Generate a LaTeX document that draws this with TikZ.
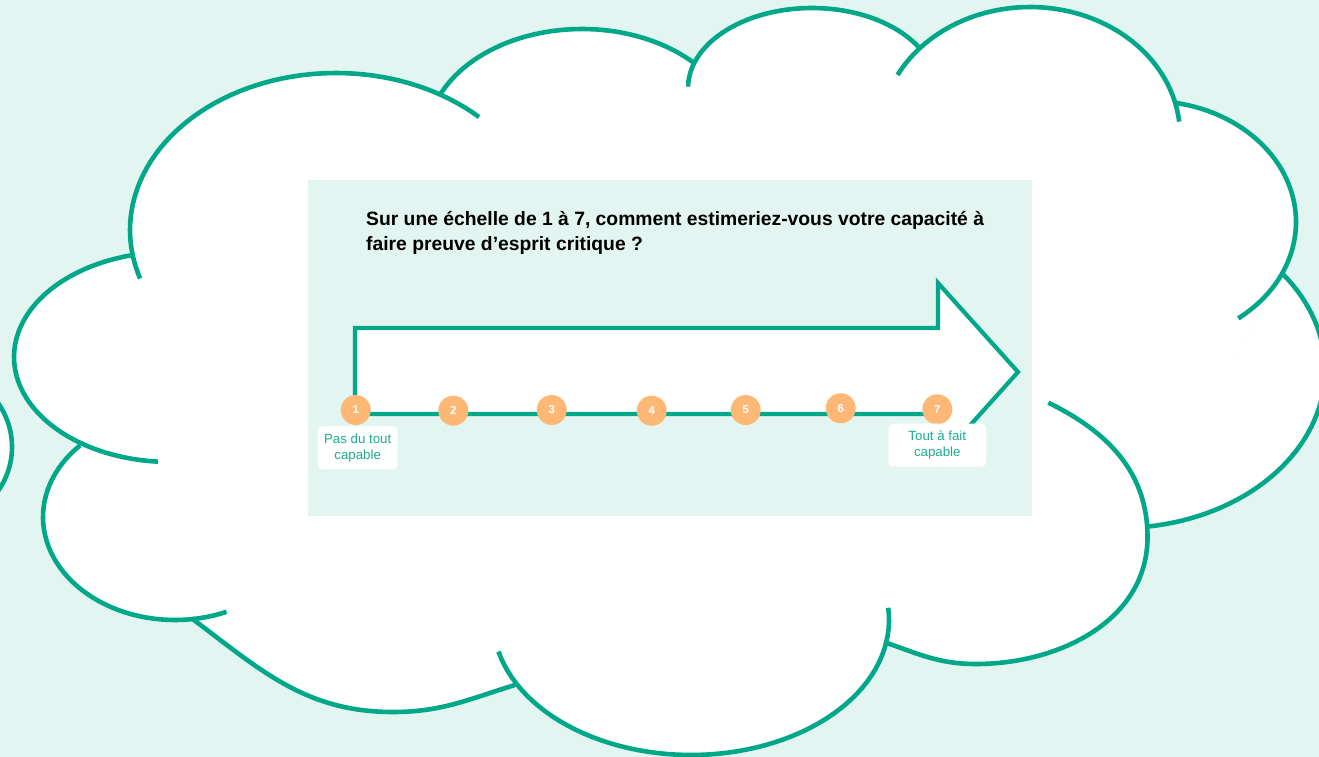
\documentclass[tikz,border=0pt]{standalone}
\usepackage{fontspec}
\setmainfont{Liberation Sans}
\usetikzlibrary{positioning}
\definecolor{mint}{RGB}{226,245,240}
\definecolor{cloudgreen}{RGB}{0,168,137}
\definecolor{labelgreen}{RGB}{28,174,143}
\definecolor{dotorange}{RGB}{253,184,118}

% the lobes of the cloud, each one path, all drawn with the style in #1
\newcommand\cloudlobes[1]{%
\path[#1] plot[domain=94.4:256.4,samples=50] ({170+156*cos(\x)},{357+105*sin(\x)});
\path[#1] plot[domain=162:314,samples=60] ({336+206*cos(\x)},{230+157*sin(\x)});
\path[#1] plot[domain=203.6:316.5,samples=50] ({582+155*cos(\x)},{139+110*sin(\x)});
\path[#1] plot[domain=181:329,samples=50] ({812+124*cos(\x)},{88+80*sin(\x)});
\path[#1] plot[domain=208:354,samples=50] ({1030+150*cos(\x)},{135+128*sin(\x)});
\path[#1] plot[domain=279.8:412.8,samples=50] ({1150+146*cos(\x)},{222+121*sin(\x)});
\path[#1] plot[domain=-38.1:82.5,samples=50] ({1120+205*cos(\x)},{370+158*sin(\x)});
\path[#1] (1048.3,402.7) to[out=-26,in=90] (1147.5,537) to[out=-90,in=0] (976,664) to[out=180,in=-19] (884,642);
\path[#1] plot[domain=-5.2:166.5,samples=60] ({691+198*cos(\x)},{620+135*sin(\x)});
\path[#1] (515,685) to[out=197,in=0] (393,712) to[out=180,in=-37] (191.7,618.3);
\path[#1] plot[domain=67:224,samples=50] ({175+132*cos(\x)},{517+103*sin(\x)});
}

\begin{document}
\begin{tikzpicture}[x=1pt,y=-1pt,
  cloudfill/.style={fill=white,draw=white,line width=1pt},
  cloudline/.style={draw=cloudgreen,line width=4.6pt},
  arrowline/.style={cloudgreen,line width=4.2pt,line join=miter},
  scaleline/.style={cloudgreen,line width=4.5pt},
  question/.style={inner sep=0pt,font=\bfseries\fontsize{19.3}{25}\selectfont},
  dot/.style={circle,fill=dotorange,minimum size=30pt,inner sep=0pt,text=white,font=\bfseries\fontsize{11.5}{12}\selectfont},
  endlabel/.style={fill=white,rounded corners=5pt,align=center,text=labelgreen,inner sep=0pt,minimum height=43pt,font=\fontsize{13.3}{16.5}\selectfont}]
\useasboundingbox (0,0) rectangle (1319,757);
\clip (0,0) rectangle (1319,757);
\fill[mint] (0,0) rectangle (1319,757);

% cloud
\cloudlobes{cloudfill}
\path[cloudfill] (133,255) -- (440,95) -- (695,63) -- (918,47) -- (1175,102) -- (1280,273) -- (1147,527) -- (884,642) -- (515,685) -- (192,618) -- (82,447) -- cycle;
\cloudlobes{cloudline}
\draw[cloudline,fill=white] (-64,447) circle[radius=76pt];

% question panel
\fill[mint] (308,180) rectangle (1032,516);
\node[question,anchor=base west] (q1) at (366,225) {Sur une échelle de 1 à 7, comment estimeriez-vous votre capacité à};
\node[question,anchor=base west] (q2) at (366,250) {faire preuve d’esprit critique ?};

% arrow and scale
\draw[arrowline,fill=white] (355,414) -- (355,328) -- (938,328) -- (938,283) -- (1018,372) -- (938,461) -- (938,414) -- cycle;
\coordinate (s1) at (355.7,414);
\coordinate (s7) at (937.3,414);
\draw[scaleline] (s1) -- (s7);
\foreach \n/\x/\y in {1/355.7/410,2/453.3/410.7,3/551.7/410,4/651.7/410.7,5/745.7/410,6/840.7/408.3,7/937.3/409.3}
  \node[dot] (p\n) at (\x,\y) {\n};
\node[endlabel,minimum width=80pt,below=1pt of p1,xshift=2pt] (low) {Pas du tout\\capable};
\node[endlabel,minimum width=98pt,below=-1pt of p7] (high) {Tout à fait\\capable};
\end{tikzpicture}
\end{document}
